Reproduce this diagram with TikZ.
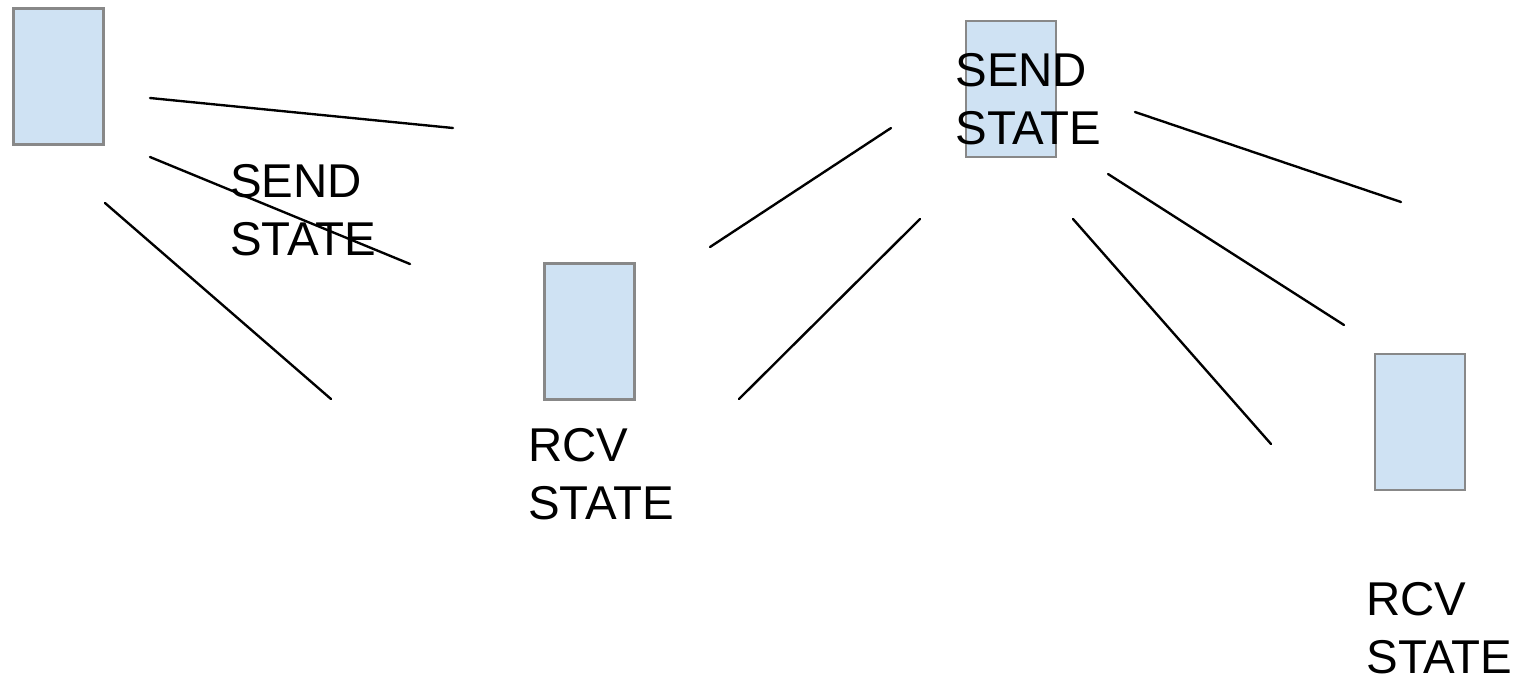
\documentclass[tikz,border=0pt]{standalone}
\usepackage{fontspec}
\setmainfont{Liberation Sans}
\definecolor{boxfill}{HTML}{CFE2F3}
\definecolor{boxline}{HTML}{888888}
\tikzset{
  statebox/.style={rectangle, fill=boxfill, draw=boxline, line width=1.2pt, inner sep=0pt, minimum width=1.8cm, minimum height=2.72cm},
  statelabel/.style={anchor=north west, inner sep=0pt, align=left, font=\fontsize{27}{33}\selectfont},
  link/.style={line width=1.35pt, line cap=round}
}
\begin{document}
\begin{tikzpicture}[x=0.02cm, y=-0.02cm]
			\useasboundingbox (0,0) rectangle (1514,681);

			\node[statebox] (sender) at (58.5,76.5) {};
			\node[statebox] (rcvmid) at (589.5,331.5) {};
			\node[statebox] (sendtop) at (1011,89) {};
			\node[statebox] (rcvright) at (1420,422) {};

			% loose strokes between the boxes
			\coordinate (a1) at (150,98);   \coordinate (a2) at (453,128);
			\coordinate (b1) at (150,157);  \coordinate (b2) at (410,264);
			\coordinate (c1) at (105,203);  \coordinate (c2) at (331,399);
			\coordinate (d1) at (710,247);  \coordinate (d2) at (891,128);
			\coordinate (e1) at (739,399);  \coordinate (e2) at (920,219);
			\coordinate (f1) at (1135,112); \coordinate (f2) at (1401,202);
			\coordinate (g1) at (1108,174); \coordinate (g2) at (1344,325);
			\coordinate (h1) at (1073,219); \coordinate (h2) at (1271,444);
			\draw[link] (a1) -- (a2);
			\draw[link] (b1) -- (b2);
			\draw[link] (c1) -- (c2);
			\draw[link] (d1) -- (d2);
			\draw[link] (e1) -- (e2);
			\draw[link] (f1) -- (f2);
			\draw[link] (g1) -- (g2);
			\draw[link] (h1) -- (h2);

			\node[statelabel] (sendleft) at (230,164) {SEND\\STATE};
			\node[statelabel] (rcvmidtext) at (528,428) {RCV\\STATE};
			\node[statelabel] (sendtoptext) at (955,53) {SEND\\STATE};
			\node[statelabel] (rcvrighttext) at (1366,582) {RCV\\STATE};
		\end{tikzpicture}
\end{document}
